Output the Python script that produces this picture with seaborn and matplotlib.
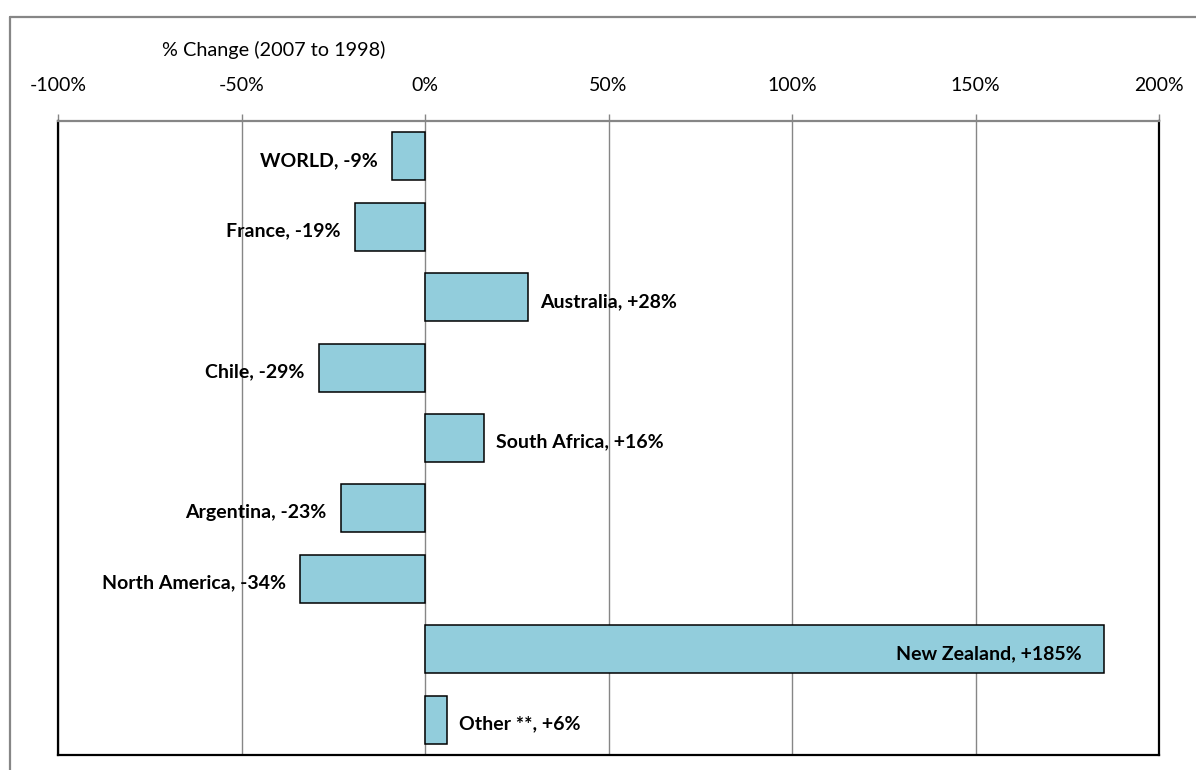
import matplotlib
matplotlib.use("Agg")
import matplotlib.pyplot as plt
from matplotlib.lines import Line2D
import seaborn as sns
import pandas as pd

regions = ["WORLD", "France", "Australia", "Chile", "South Africa",
           "Argentina", "North America", "New Zealand", "Other **"]
pct_change = [-9, -19, 28, -29, 16, -23, -34, 185, 6]
tick_values = [-100, -50, 0, 50, 100, 150, 200]
tick_labels = ["-100%", "-50%", "0%", "50%", "100%", "150%", "200%"]
axis_title = "% Change (2007 to 1998)"

df = pd.DataFrame({"region": regions, "change": pct_change})

sns.set_theme(style="white")
plt.rcParams["font.family"] = ["Lato", "DejaVu Sans"]

W, H, DPI = 1196, 770, 100
fig = plt.figure(figsize=(W / DPI, H / DPI), dpi=DPI)
ax = fig.add_axes([58 / W, 1 - 755 / H, (1159 - 58) / W, (755 - 121) / H])

grey = "#868686"
bar_fill = "#92CDDC"

sns.barplot(data=df, x="change", y="region", orient="h", ax=ax,
            color=bar_fill, width=0.68, edgecolor="black", linewidth=1.1,
            saturation=1, zorder=3)

ax.set_xlim(-100, 200)
ax.set_ylim(len(regions) - 0.5, -0.5)
ax.set_xlabel("")
ax.set_ylabel("")
ax.set_yticks([])

ax.xaxis.tick_top()
ax.set_xticks(tick_values)
ax.set_xticklabels(tick_labels, fontsize=14, color="black")
ax.tick_params(axis="x", which="major", direction="out", length=5,
               width=1, color=grey, pad=14.5, top=True, bottom=False)
ax.grid(axis="x", color=grey, linewidth=1, zorder=0)
ax.set_axisbelow(True)

for side in ("left", "right", "bottom"):
    ax.spines[side].set_color("black")
    ax.spines[side].set_linewidth(1.6)
ax.spines["top"].set_color(grey)
ax.spines["top"].set_linewidth(1.6)

# value labels: outside the bar end, except the long bar where it sits inside
label_size = 14
for i, (name, val) in enumerate(zip(regions, pct_change)):
    sign = "+" if val > 0 else ""
    txt = f"{name}, {sign}{val}%"
    if val >= 100:
        ax.text(val - 6, i + 0.06, txt, ha="right", va="center",
                fontsize=label_size, fontweight="bold", color="black", zorder=5)
    elif val >= 0:
        ax.text(val + 3.3, i + 0.06, txt, ha="left", va="center",
                fontsize=label_size, fontweight="bold", color="black", zorder=5)
    else:
        ax.text(val - 4, i + 0.06, txt, ha="right", va="center",
                fontsize=label_size, fontweight="bold", color="black", zorder=5)

fig.text(162 / W, 1 - 50 / H, axis_title, ha="left", va="center",
         fontsize=14.3, color="black")

# outer chart frame
fig.add_artist(Line2D([10 / W, 10 / W], [-0.01, 1 - 17 / H],
                      transform=fig.transFigure, color=grey, linewidth=1.6))
fig.add_artist(Line2D([10 / W, 1.01], [1 - 17 / H, 1 - 17 / H],
                      transform=fig.transFigure, color=grey, linewidth=1.6))

fig.savefig("out.png", dpi=DPI, facecolor="white")
